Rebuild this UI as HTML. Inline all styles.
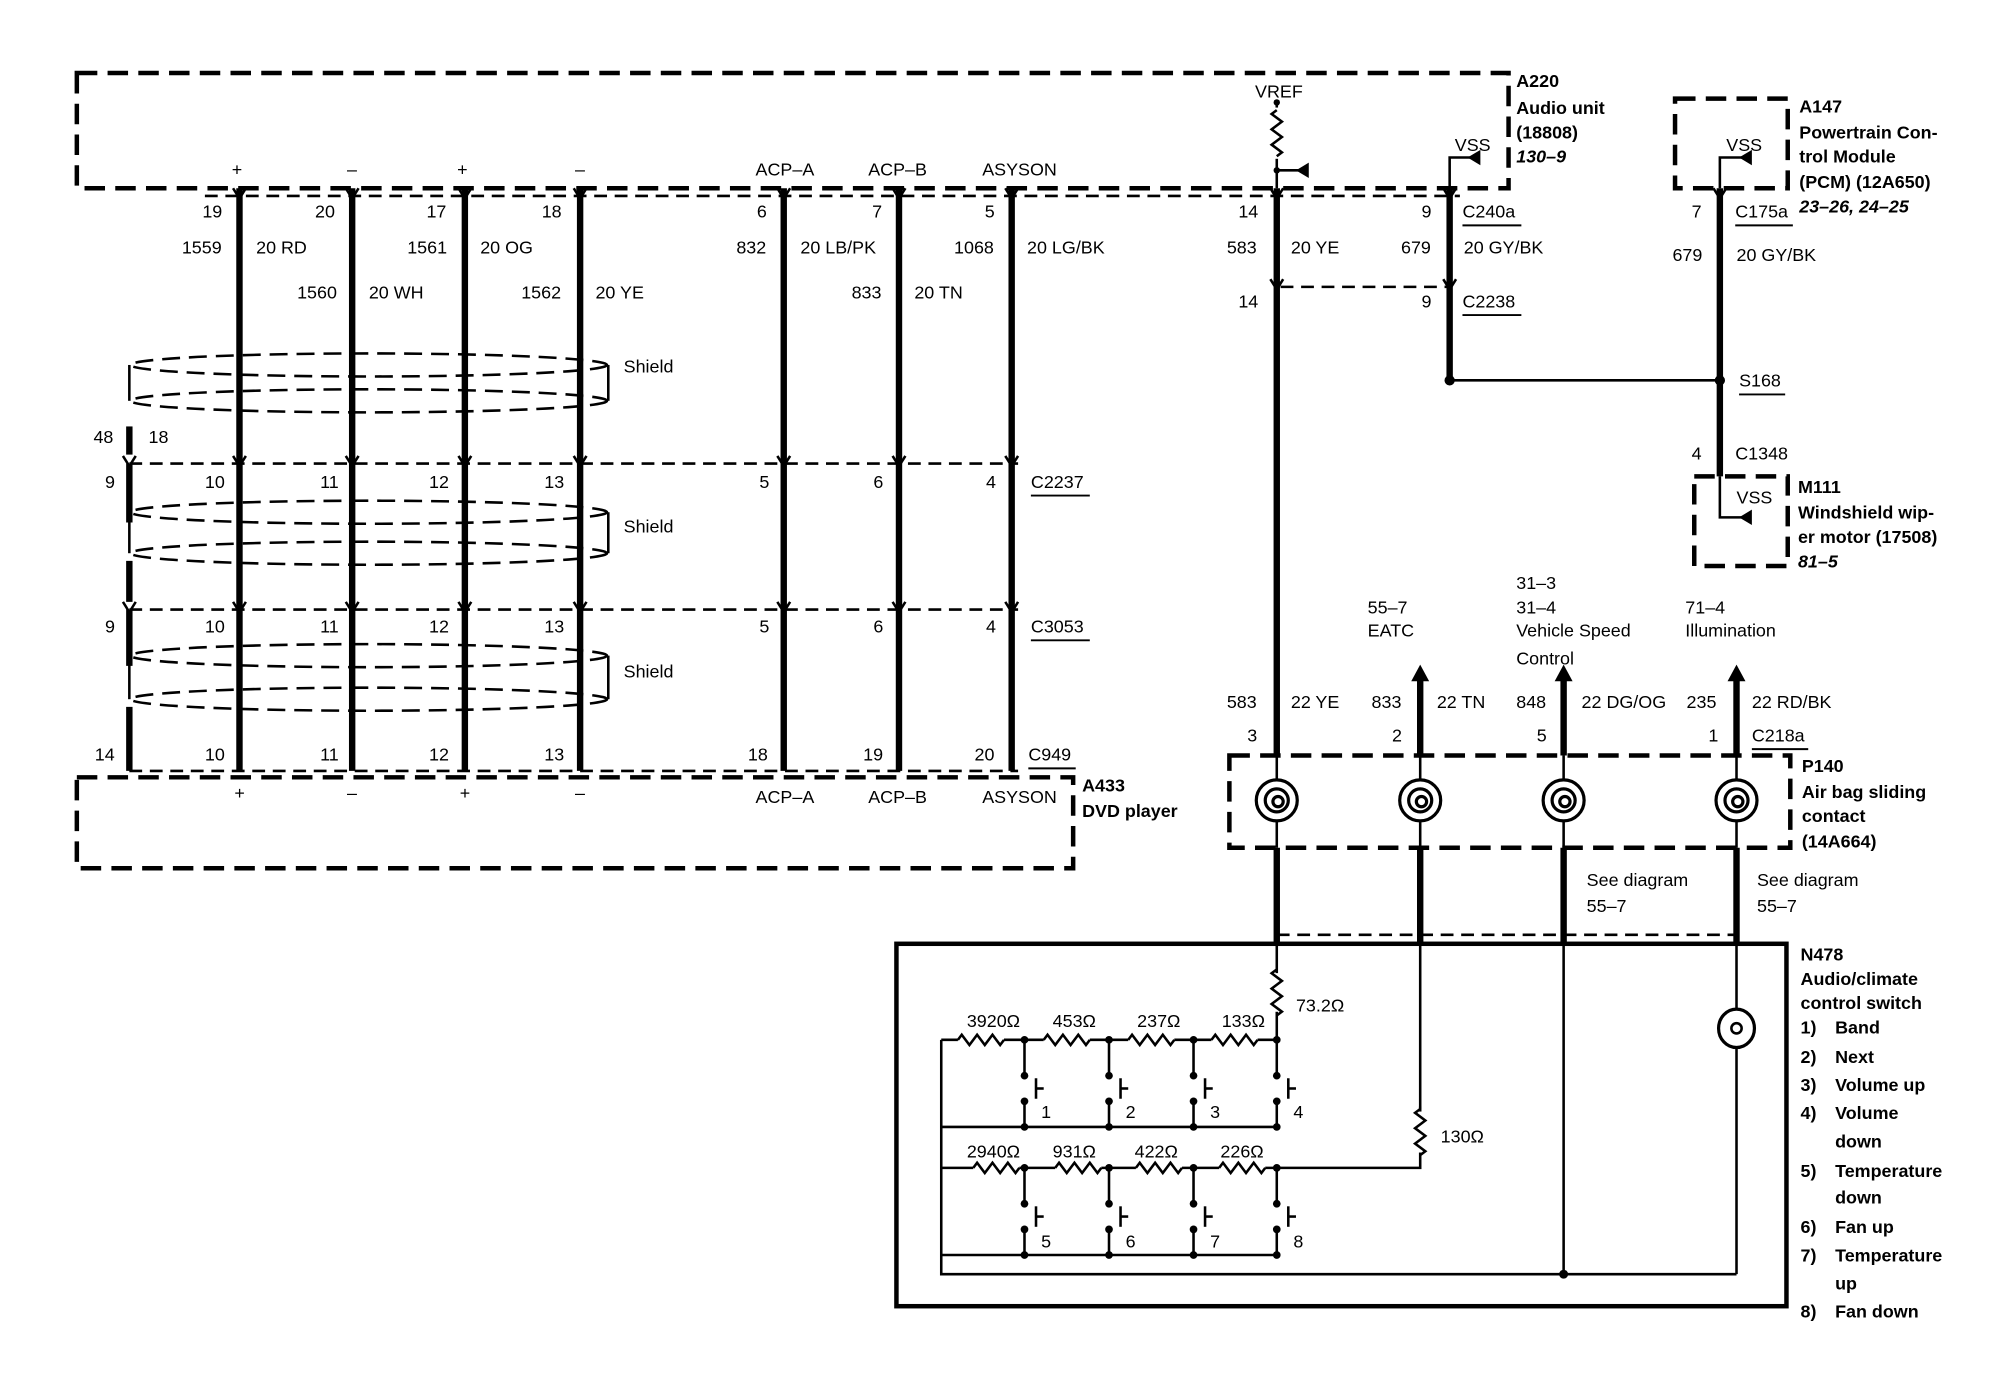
<!DOCTYPE html>
<html><head><meta charset="utf-8"><style>
html,body{margin:0;padding:0;background:#fff;}
svg{display:block;}
text{font-family:"Liberation Sans",Arial,sans-serif;font-size:14px;fill:#000;}
.b{font-weight:bold;}
.i{font-style:italic;font-weight:bold;}
</style></head><body>
<svg width="2008" height="1392" viewBox="0 0 1568 1087" preserveAspectRatio="none" xmlns="http://www.w3.org/2000/svg">
<defs>
<path id="rh" d="M-18 0 l3 -4 l6 8 l6 -8 l6 8 l6 -8 l6 8 l3 -4" fill="none" stroke="#000" stroke-width="2"/>
<path id="rv" d="M0 -18 l-4 3 l8 6 l-8 6 l8 6 l-8 6 l8 6 l-4 3" fill="none" stroke="#000" stroke-width="2"/>
<g id="sw">
<line x1="0" y1="0" x2="0" y2="28" stroke="#000" stroke-width="2"/>
<line x1="0" y1="48" x2="0" y2="68" stroke="#000" stroke-width="2"/>
<circle cx="0" cy="28" r="3"/><circle cx="0" cy="48" r="3"/><circle cx="0" cy="0" r="3"/><circle cx="0" cy="68" r="3"/>
<line x1="9" y1="30" x2="9" y2="46" stroke="#000" stroke-width="2"/>
<line x1="9" y1="38" x2="15" y2="38" stroke="#000" stroke-width="2"/>
</g>
<g id="sp" fill="none" stroke="#000" stroke-width="2.5">
<circle cx="0" cy="0" r="16"/><circle cx="0" cy="0" r="9"/><circle cx="1" cy="1" r="4"/>
</g>
<g id="dn"><path d="M-5 -6 L0 2 L5 -6" fill="none" stroke="#000" stroke-width="2"/></g>
</defs>

<!-- A220 -->
<rect x="60" y="57" width="1118" height="90" fill="none" stroke="#000" stroke-width="3.5" stroke-dasharray="16,8"/>
<text x="1184" y="68" class="b">A220</text>
<text x="1184" y="89" class="b">Audio unit</text>
<text x="1184" y="108" class="b">(18808)</text>
<text x="1184" y="127" class="i">130–9</text>
<text x="181" y="137">+</text><text x="271" y="137">–</text><text x="357" y="137">+</text><text x="449" y="137">–</text>
<text x="590" y="137">ACP–A</text><text x="678" y="137">ACP–B</text><text x="767" y="137">ASYSON</text>
<text x="980" y="76">VREF</text>
<line x1="997" y1="78" x2="997" y2="147" stroke="#000" stroke-width="2"/>
<circle cx="997" cy="80" r="2.5"/>
<rect x="990" y="84" width="14" height="40" fill="#fff"/>
<use href="#rv" x="997" y="104"/>
<line x1="997" y1="133" x2="1014" y2="133" stroke="#000" stroke-width="2"/><circle cx="997" cy="133" r="2.5"/>
<path d="M1012 133 L1022 127 L1022 139 Z"/>
<text x="1136" y="118">VSS</text>
<path d="M1132 147 V123 H1148" fill="none" stroke="#000" stroke-width="2"/>
<path d="M1146 123 L1156 117 L1156 129 Z"/>

<line x1="160" y1="153" x2="1140" y2="153" stroke="#000" stroke-width="2" stroke-dasharray="10,6"/>
<g stroke="#000" stroke-width="5">
<line x1="187" y1="147" x2="187" y2="602"/><line x1="275" y1="147" x2="275" y2="602"/>
<line x1="363" y1="147" x2="363" y2="602"/><line x1="453" y1="147" x2="453" y2="602"/>
<line x1="612" y1="147" x2="612" y2="602"/><line x1="702" y1="147" x2="702" y2="602"/>
<line x1="790" y1="147" x2="790" y2="602"/>
<line x1="997" y1="147" x2="997" y2="590"/><line x1="1132" y1="147" x2="1132" y2="297"/>
<line x1="1343" y1="147" x2="1343" y2="372"/>
<line x1="101" y1="333" x2="101" y2="355"/>
<line x1="101" y1="362" x2="101" y2="408"/><line x1="101" y1="438" x2="101" y2="470"/>
<line x1="101" y1="476" x2="101" y2="520"/><line x1="101" y1="552" x2="101" y2="602"/>
</g>
<g>
<use href="#dn" x="187" y="153"/><use href="#dn" x="275" y="153"/><use href="#dn" x="363" y="153"/><use href="#dn" x="453" y="153"/>
<use href="#dn" x="612" y="153"/><use href="#dn" x="702" y="153"/><use href="#dn" x="790" y="153"/><use href="#dn" x="997" y="153"/><use href="#dn" x="1132" y="153"/><use href="#dn" x="1343" y="153"/>
<use href="#dn" x="997" y="224"/><use href="#dn" x="1132" y="224"/>
</g>
<text x="158" y="170">19</text><text x="246" y="170">20</text><text x="333" y="170">17</text><text x="423" y="170">18</text>
<text x="591" y="170">6</text><text x="681" y="170">7</text><text x="769" y="170">5</text><text x="967" y="170">14</text><text x="1110" y="170">9</text>
<text x="1142" y="170">C240a</text><line x1="1142" y1="176" x2="1188" y2="176" stroke="#000" stroke-width="1.5"/>
<text x="142" y="198">1559</text><text x="200" y="198">20 RD</text><text x="318" y="198">1561</text><text x="375" y="198">20 OG</text>
<text x="575" y="198">832</text><text x="625" y="198">20 LB/PK</text><text x="745" y="198">1068</text><text x="802" y="198">20 LG/BK</text>
<text x="958" y="198">583</text><text x="1008" y="198">20 YE</text><text x="1094" y="198">679</text><text x="1143" y="198">20 GY/BK</text>
<text x="232" y="233">1560</text><text x="288" y="233">20 WH</text><text x="407" y="233">1562</text><text x="465" y="233">20 YE</text>
<text x="665" y="233">833</text><text x="714" y="233">20 TN</text>
<line x1="1000" y1="224" x2="1130" y2="224" stroke="#000" stroke-width="2" stroke-dasharray="10,6"/>
<text x="967" y="240">14</text><text x="1110" y="240">9</text>
<text x="1142" y="240">C2238</text><line x1="1142" y1="246" x2="1188" y2="246" stroke="#000" stroke-width="1.5"/>
<line x1="1132" y1="297" x2="1343" y2="297" stroke="#000" stroke-width="2"/>
<circle cx="1132" cy="297" r="4"/><circle cx="1343" cy="297" r="4"/>
<text x="1358" y="302">S168</text><line x1="1358" y1="308" x2="1394" y2="308" stroke="#000" stroke-width="1.5"/>

<rect x="1308" y="77" width="88" height="70" fill="none" stroke="#000" stroke-width="3.5" stroke-dasharray="16,8"/>
<text x="1348" y="118">VSS</text>
<path d="M1343 147 V123 H1360" fill="none" stroke="#000" stroke-width="2"/><path d="M1358 123 L1368 117 L1368 129 Z"/>
<text x="1405" y="88" class="b">A147</text>
<text x="1405" y="108" class="b">Powertrain Con-</text>
<text x="1405" y="127" class="b">trol Module</text>
<text x="1405" y="147" class="b">(PCM) (12A650)</text>
<text x="1405" y="166" class="i">23–26, 24–25</text>
<text x="1321" y="170">7</text><text x="1355" y="170">C175a</text><line x1="1355" y1="176" x2="1400" y2="176" stroke="#000" stroke-width="1.5"/>
<text x="1306" y="204">679</text><text x="1356" y="204">20 GY/BK</text>
<text x="1321" y="359">4</text><text x="1355" y="359">C1348</text>
<rect x="1323" y="372" width="73" height="70" fill="none" stroke="#000" stroke-width="3.5" stroke-dasharray="16,8"/>
<text x="1356" y="393">VSS</text>
<path d="M1343 372 V404 H1360" fill="none" stroke="#000" stroke-width="2"/><path d="M1358 404 L1368 398 L1368 410 Z"/>
<text x="1404" y="385" class="b">M111</text>
<text x="1404" y="405" class="b">Windshield wip-</text>
<text x="1404" y="424" class="b">er motor (17508)</text>
<text x="1404" y="443" class="i">81–5</text>

<g fill="none" stroke="#000" stroke-width="2" stroke-dasharray="14,7">
<ellipse cx="288" cy="285" rx="186" ry="9"/><ellipse cx="288" cy="313" rx="186" ry="9"/>
<ellipse cx="288" cy="400" rx="186" ry="9"/><ellipse cx="288" cy="432" rx="186" ry="9"/>
<ellipse cx="288" cy="512" rx="186" ry="9"/><ellipse cx="288" cy="546" rx="186" ry="9"/>
</g>
<g stroke="#000" stroke-width="2">
<line x1="475" y1="285" x2="475" y2="313"/><line x1="475" y1="400" x2="475" y2="432"/><line x1="475" y1="512" x2="475" y2="546"/>
<line x1="101" y1="285" x2="101" y2="313"/><line x1="101" y1="400" x2="101" y2="432"/><line x1="101" y1="512" x2="101" y2="546"/>
</g>
<text x="487" y="291">Shield</text><text x="487" y="416">Shield</text><text x="487" y="529">Shield</text>
<text x="73" y="346">48</text><text x="116" y="346">18</text>

<line x1="101" y1="362" x2="795" y2="362" stroke="#000" stroke-width="2" stroke-dasharray="10,6"/>
<g><use href="#dn" x="101" y="362"/><use href="#dn" x="187" y="362"/><use href="#dn" x="275" y="362"/><use href="#dn" x="363" y="362"/><use href="#dn" x="453" y="362"/><use href="#dn" x="612" y="362"/><use href="#dn" x="702" y="362"/><use href="#dn" x="790" y="362"/></g>
<text x="82" y="381">9</text><text x="160" y="381">10</text><text x="250" y="381">11</text><text x="335" y="381">12</text><text x="425" y="381">13</text>
<text x="593" y="381">5</text><text x="682" y="381">6</text><text x="770" y="381">4</text>
<text x="805" y="381">C2237</text><line x1="805" y1="387" x2="851" y2="387" stroke="#000" stroke-width="1.5"/>
<line x1="101" y1="476" x2="795" y2="476" stroke="#000" stroke-width="2" stroke-dasharray="10,6"/>
<g><use href="#dn" x="101" y="476"/><use href="#dn" x="187" y="476"/><use href="#dn" x="275" y="476"/><use href="#dn" x="363" y="476"/><use href="#dn" x="453" y="476"/><use href="#dn" x="612" y="476"/><use href="#dn" x="702" y="476"/><use href="#dn" x="790" y="476"/></g>
<text x="82" y="494">9</text><text x="160" y="494">10</text><text x="250" y="494">11</text><text x="335" y="494">12</text><text x="425" y="494">13</text>
<text x="593" y="494">5</text><text x="682" y="494">6</text><text x="770" y="494">4</text>
<text x="805" y="494">C3053</text><line x1="805" y1="500" x2="851" y2="500" stroke="#000" stroke-width="1.5"/>
<line x1="101" y1="602" x2="795" y2="602" stroke="#000" stroke-width="2" stroke-dasharray="10,6"/>
<text x="74" y="594">14</text><text x="160" y="594">10</text><text x="250" y="594">11</text><text x="335" y="594">12</text><text x="425" y="594">13</text>
<text x="584" y="594">18</text><text x="674" y="594">19</text><text x="761" y="594">20</text>
<text x="803" y="594">C949</text><line x1="803" y1="600" x2="840" y2="600" stroke="#000" stroke-width="1.5"/>

<rect x="60" y="607" width="778" height="71" fill="none" stroke="#000" stroke-width="3.5" stroke-dasharray="16,8"/>
<text x="183" y="624" font-size="12">+</text><text x="271" y="624">–</text><text x="359" y="624">+</text><text x="449" y="624">–</text>
<text x="590" y="627">ACP–A</text><text x="678" y="627">ACP–B</text><text x="767" y="627">ASYSON</text>
<text x="845" y="618" class="b">A433</text><text x="845" y="638" class="b">DVD player</text>

<g stroke="#000" stroke-width="5">
<line x1="1109" y1="530" x2="1109" y2="590"/><line x1="1221" y1="530" x2="1221" y2="590"/><line x1="1356" y1="530" x2="1356" y2="590"/>
</g>
<path d="M1102 532 L1109 519 L1116 532 Z"/><path d="M1214 532 L1221 519 L1228 532 Z"/><path d="M1349 532 L1356 519 L1363 532 Z"/>
<text x="1068" y="479">55–7</text><text x="1068" y="497">EATC</text>
<text x="1184" y="460">31–3</text><text x="1184" y="479">31–4</text><text x="1184" y="497">Vehicle Speed</text><text x="1184" y="519">Control</text>
<text x="1316" y="479">71–4</text><text x="1316" y="497">Illumination</text>
<text x="958" y="553">583</text><text x="1008" y="553">22 YE</text><text x="1071" y="553">833</text><text x="1122" y="553">22 TN</text>
<text x="1184" y="553">848</text><text x="1235" y="553">22 DG/OG</text><text x="1317" y="553">235</text><text x="1368" y="553">22 RD/BK</text>
<text x="974" y="579">3</text><text x="1087" y="579">2</text><text x="1200" y="579">5</text><text x="1334" y="579">1</text>
<text x="1368" y="579">C218a</text><line x1="1368" y1="585" x2="1412" y2="585" stroke="#000" stroke-width="1.5"/>
<rect x="960" y="590" width="438" height="72" fill="none" stroke="#000" stroke-width="3.5" stroke-dasharray="16,8"/>
<use href="#sp" x="997" y="625"/><use href="#sp" x="1109" y="625"/><use href="#sp" x="1221" y="625"/><use href="#sp" x="1356" y="625"/>
<g stroke="#000" stroke-width="2"><line x1="997" y1="590" x2="997" y2="609"/><line x1="1109" y1="590" x2="1109" y2="609"/><line x1="1221" y1="590" x2="1221" y2="609"/><line x1="1356" y1="590" x2="1356" y2="609"/>
<line x1="997" y1="641" x2="997" y2="662"/><line x1="1109" y1="641" x2="1109" y2="662"/><line x1="1221" y1="641" x2="1221" y2="662"/><line x1="1356" y1="641" x2="1356" y2="662"/></g>
<text x="1407" y="603" class="b">P140</text><text x="1407" y="623" class="b">Air bag sliding</text>
<text x="1407" y="642" class="b">contact</text><text x="1407" y="662" class="b">(14A664)</text>
<g stroke="#000" stroke-width="5">
<line x1="997" y1="662" x2="997" y2="737"/><line x1="1109" y1="662" x2="1109" y2="737"/>
<line x1="1221" y1="662" x2="1221" y2="737"/><line x1="1356" y1="662" x2="1356" y2="737"/>
</g>
<line x1="997" y1="730" x2="1356" y2="730" stroke="#000" stroke-width="2" stroke-dasharray="10,6"/>
<text x="1239" y="692">See diagram</text><text x="1239" y="712">55–7</text>
<text x="1372" y="692">See diagram</text><text x="1372" y="712">55–7</text>

<rect x="700" y="737" width="695" height="283" fill="none" stroke="#000" stroke-width="3.5"/>
<text x="1406" y="750" class="b">N478</text><text x="1406" y="769" class="b">Audio/climate</text><text x="1406" y="788" class="b">control switch</text>
<text x="1406" y="807" class="b">1)</text><text x="1433" y="807" class="b">Band</text>
<text x="1406" y="830" class="b">2)</text><text x="1433" y="830" class="b">Next</text>
<text x="1406" y="852" class="b">3)</text><text x="1433" y="852" class="b">Volume up</text>
<text x="1406" y="874" class="b">4)</text><text x="1433" y="874" class="b">Volume</text>
<text x="1433" y="896" class="b">down</text>
<text x="1406" y="919" class="b">5)</text><text x="1433" y="919" class="b">Temperature</text>
<text x="1433" y="940" class="b">down</text>
<text x="1406" y="963" class="b">6)</text><text x="1433" y="963" class="b">Fan up</text>
<text x="1406" y="985" class="b">7)</text><text x="1433" y="985" class="b">Temperature</text>
<text x="1433" y="1007" class="b">up</text>
<text x="1406" y="1029" class="b">8)</text><text x="1433" y="1029" class="b">Fan down</text>
<g stroke="#000" stroke-width="2" fill="none">
<line x1="997" y1="737" x2="997" y2="760"/><line x1="997" y1="790" x2="997" y2="812"/>
<path d="M735 812 H997"/><path d="M735 880 H997"/><path d="M735 912 H1109 V900"/><path d="M735 980 H997"/>
<path d="M735 812 V995 H1356"/>
<line x1="1109" y1="737" x2="1109" y2="866"/>
<line x1="1221" y1="737" x2="1221" y2="995"/>
<line x1="1356" y1="737" x2="1356" y2="789"/><line x1="1356" y1="817" x2="1356" y2="995"/>
<ellipse cx="1356" cy="803" rx="14" ry="15" stroke-width="2.5"/>
</g>
<circle cx="1356" cy="803" r="4" fill="none" stroke="#000" stroke-width="2"/>
<circle cx="1221" cy="995" r="3.5"/>
<rect x="990" y="760" width="14" height="30" fill="#fff"/><use href="#rv" x="997" y="775"/>
<text x="1012" y="790">73.2Ω</text>
<rect x="1102" y="868" width="14" height="32" fill="#fff"/><use href="#rv" x="1109" y="884"/>
<line x1="1109" y1="864" x2="1109" y2="868" stroke="#000" stroke-width="2"/>
<text x="1125" y="892">130Ω</text>
<g fill="#fff"><rect x="748" y="806" width="36" height="12"/><rect x="815" y="806" width="36" height="12"/><rect x="881" y="806" width="36" height="12"/><rect x="946" y="806" width="36" height="12"/>
<rect x="760" y="906" width="36" height="12"/><rect x="824" y="906" width="36" height="12"/><rect x="887" y="906" width="36" height="12"/><rect x="952" y="906" width="36" height="12"/></g>
<use href="#rh" x="766" y="812"/><use href="#rh" x="833" y="812"/><use href="#rh" x="899" y="812"/><use href="#rh" x="964" y="812"/>
<use href="#rh" x="778" y="912"/><use href="#rh" x="842" y="912"/><use href="#rh" x="905" y="912"/><use href="#rh" x="970" y="912"/>
<text x="755" y="802">3920Ω</text><text x="822" y="802">453Ω</text><text x="888" y="802">237Ω</text><text x="954" y="802">133Ω</text>
<text x="755" y="904">2940Ω</text><text x="822" y="904">931Ω</text><text x="886" y="904">422Ω</text><text x="953" y="904">226Ω</text>
<use href="#sw" x="800" y="812"/><use href="#sw" x="866" y="812"/><use href="#sw" x="932" y="812"/><use href="#sw" x="997" y="812"/>
<use href="#sw" x="800" y="912"/><use href="#sw" x="866" y="912"/><use href="#sw" x="932" y="912"/><use href="#sw" x="997" y="912"/>
<text x="813" y="873">1</text><text x="879" y="873">2</text><text x="945" y="873">3</text><text x="1010" y="873">4</text>
<text x="813" y="974">5</text><text x="879" y="974">6</text><text x="945" y="974">7</text><text x="1010" y="974">8</text>
</svg>
</body></html>
